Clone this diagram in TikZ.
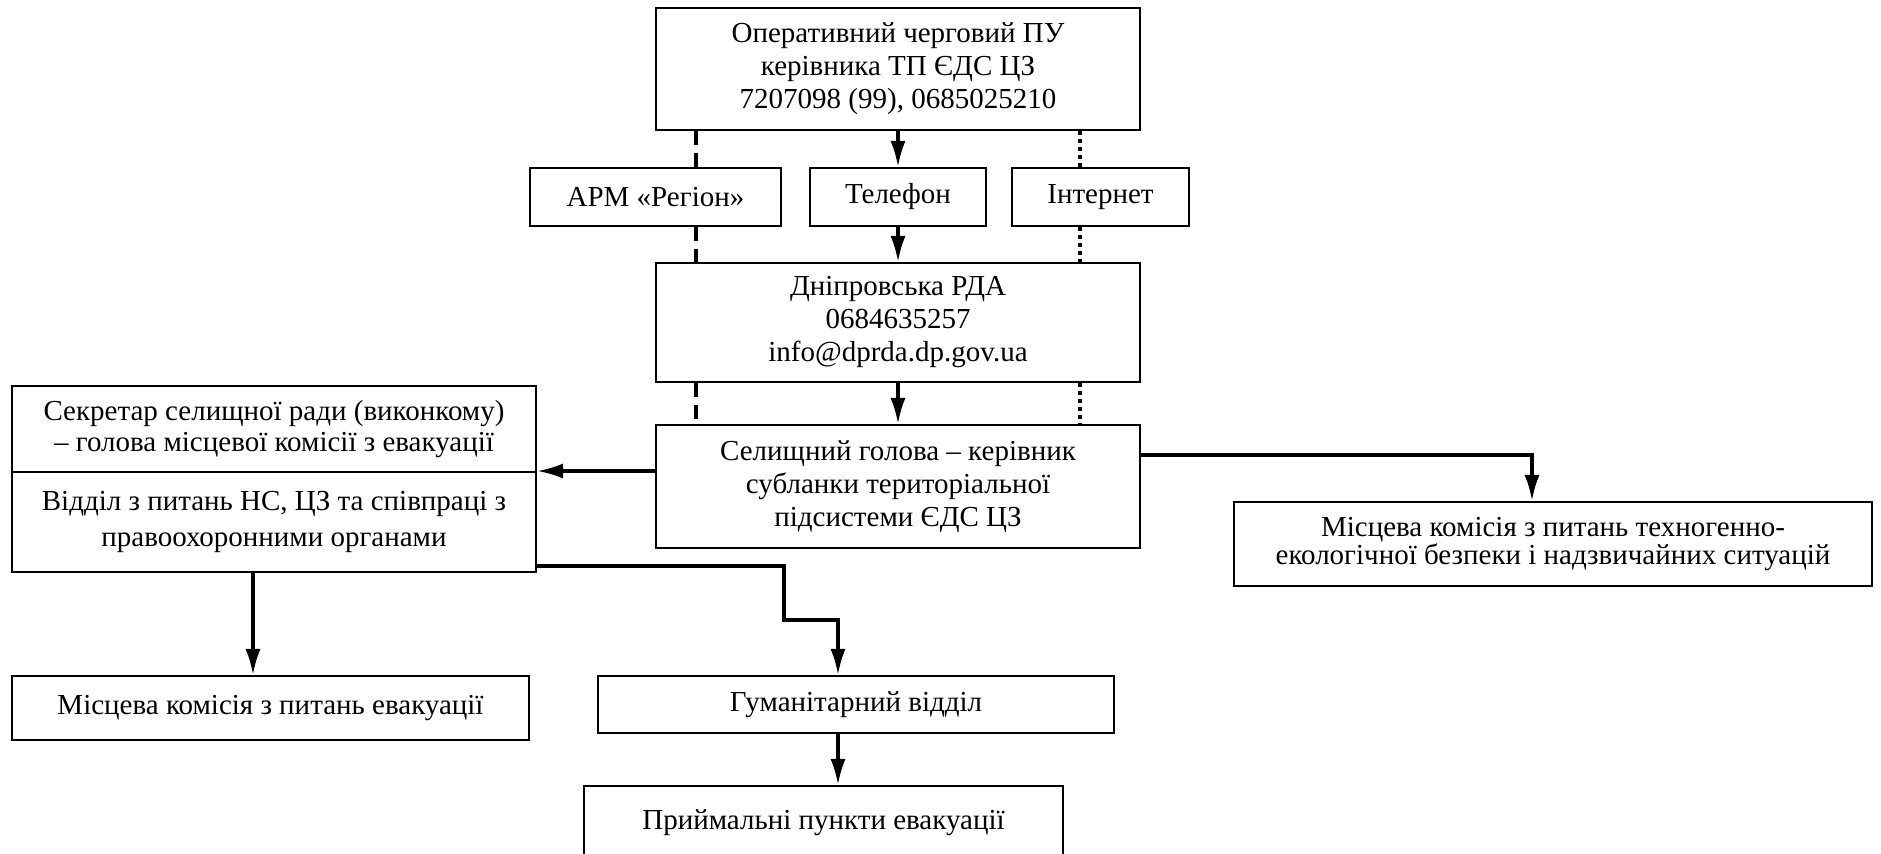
\documentclass[tikz,border=0pt]{standalone}
\usepackage{fontspec}
\setmainfont{Liberation Serif}
\usetikzlibrary{arrows.meta}
\newcommand\mybox[7][]{\node[box,#1,minimum width={(#5-#3)*0.5pt},minimum height={(#6-#4)*0.5pt}] (#2) at ({(#3+#5)/2},{(#4+#6)/2}) {#7};}
\tikzset{
  box/.style={draw, line width=1pt, align=center, inner sep=0pt, font={\fontsize{14.5pt}{16.5pt}\selectfont}},
  arr/.style={line width=1.6pt, -{Latex[length=13pt,width=7.5pt]}},
  dsh/.style={line width=2pt, dash pattern=on 7pt off 4pt},
  dtt/.style={line width=1.8pt, dash pattern=on 2pt off 2pt},
}
\begin{document}
\begin{tikzpicture}[x=0.5pt,y=-0.5pt]
\useasboundingbox (0,0) rectangle (1881,854);
\clip (0,0) rectangle (1881,854);
\mybox{top}{656}{8}{1140}{130}{Оперативний черговий ПУ\\керівника ТП ЄДС ЦЗ\\7207098 (99), 0685025210}
\mybox{apm}{530}{168}{781}{226}{АРМ «Регіон»}
\mybox{tel}{810}{168}{986}{226}{Телефон}
\mybox{inet}{1012}{168}{1189}{226}{Інтернет}
\mybox{dn}{656}{263}{1140}{382}{Дніпровська РДА\\0684635257\\info@dprda.dp.gov.ua}
\mybox{sel}{656}{425}{1140}{548}{Селищний голова – керівник\\субланки територіальної\\підсистеми ЄДС ЦЗ}
\mybox[font={\fontsize{14.5pt}{15.5pt}\selectfont}]{la}{12}{386}{536}{472}{Секретар селищної ради (виконкому)\\– голова місцевої комісії з евакуації}
\mybox[font={\fontsize{14.5pt}{18pt}\selectfont}]{lb}{12}{472}{536}{572}{Відділ з питань НС, ЦЗ та співпраці з\\правоохоронними органами}
\mybox[font={\fontsize{14.5pt}{14pt}\selectfont}]{rk}{1234}{502}{1872}{586}{Місцева комісія з питань техногенно-\\екологічної безпеки і надзвичайних ситуацій}
\mybox{mk}{12}{676}{529}{740}{Місцева комісія з питань евакуації}
\mybox{hum}{598}{676}{1114}{733}{Гуманітарний відділ}
\mybox{pr}{584}{786}{1063}{860}{Приймальні пункти евакуації}
% helper coordinates
\coordinate (dx) at (696,0);
\coordinate (tx) at (1080,0);
\coordinate (rx) at (1532,0);
\coordinate (ry) at (0,455);
\coordinate (mx) at (253,0);
\coordinate (hy) at (0,566);
\coordinate (h1) at (784,620);
\coordinate (h2) at (838,620);
% telephone chain
\draw[arr] (top.south) -- (tel.north);
\draw[arr] (tel.south) -- (dn.north);
\draw[arr] (dn.south) -- (sel.north);
% dashed chain
\draw[dsh] (dx |- top.south) -- (dx |- apm.north);
\draw[dsh] (dx |- apm.south) -- (dx |- dn.north);
\draw[dsh] (dx |- dn.south) -- (dx |- sel.north);
% dotted chain
\draw[dtt] (tx |- top.south) -- (tx |- inet.north);
\draw[dtt] (tx |- inet.south) -- (tx |- dn.north);
\draw[dtt] (tx |- dn.south) -- (tx |- sel.north);
% from selyshchnyi holova
\draw[arr] (sel.west |- lb.north east) -- (lb.north east);
\draw[arr] (sel.east |- ry) -| (rx |- rk.north);
% from left box
\draw[arr] (mx |- lb.south) -- (mx |- mk.north);
\draw[arr] (lb.east |- hy) -| (h1) -- (h2) -- (h2 |- hum.north);
\draw[arr] (h2 |- hum.south) -- (h2 |- pr.north);
\end{tikzpicture}
\end{document}
